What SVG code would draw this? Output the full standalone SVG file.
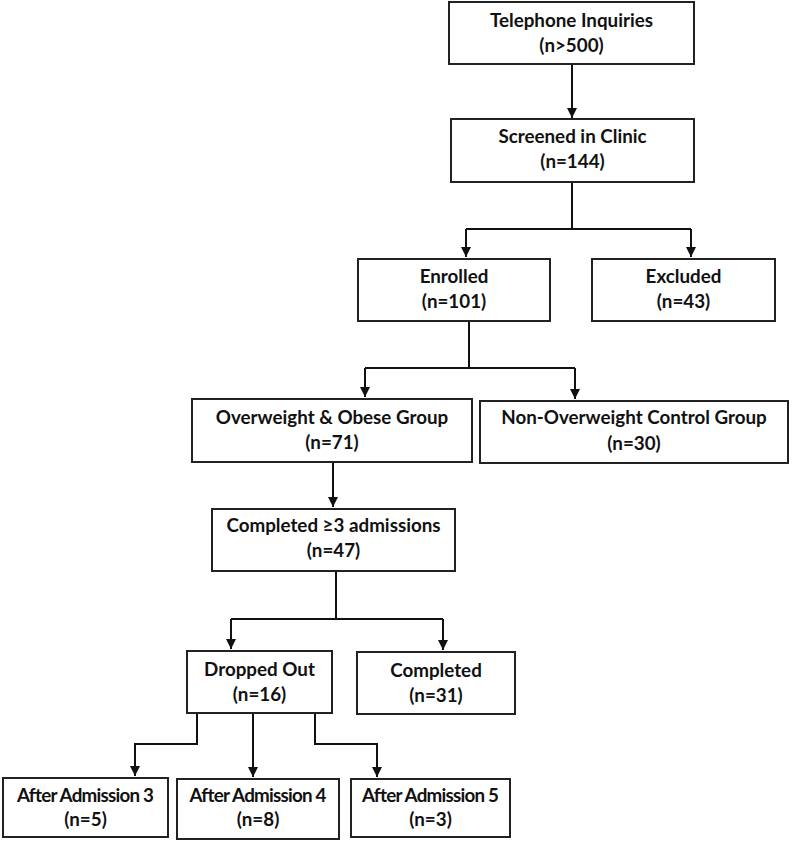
<svg xmlns="http://www.w3.org/2000/svg" width="792" height="842" viewBox="0 0 792 842">
<defs>
<marker id="arr" viewBox="0 0 10 10" refX="10" refY="5" markerWidth="10" markerHeight="10" markerUnits="userSpaceOnUse" orient="auto">
<path d="M0,0 L10,5 L0,10 z" fill="#111"/>
</marker>
<style>
.box{fill:#fff;stroke:#222;stroke-width:2}
.t{font-family:Lato,"Liberation Sans",sans-serif;font-weight:bold;font-size:18.8px;fill:#111;text-anchor:middle}
.c{fill:none;stroke:#111;stroke-width:2}
</style>
</defs>
<rect width="792" height="842" fill="#fff"/>
<g id="connectors">
<path class="c" d="M572,64 V118" marker-end="url(#arr)"/>
<path class="c" d="M572,182 V229 M466,229 H691"/>
<path class="c" d="M466,229 V257" marker-end="url(#arr)"/>
<path class="c" d="M691,229 V257" marker-end="url(#arr)"/>
<path class="c" d="M469,321 V368 M365,368 H575"/>
<path class="c" d="M365,368 V397" marker-end="url(#arr)"/>
<path class="c" d="M575,368 V399" marker-end="url(#arr)"/>
<path class="c" d="M333,462 V507" marker-end="url(#arr)"/>
<path class="c" d="M336,571 V619 M231,619 H443"/>
<path class="c" d="M231,619 V649" marker-end="url(#arr)"/>
<path class="c" d="M443,619 V650" marker-end="url(#arr)"/>
<path class="c" d="M197,713 V744 H135 V776" marker-end="url(#arr)"/>
<path class="c" d="M253,713 V777" marker-end="url(#arr)"/>
<path class="c" d="M315,713 V744 H377 V777" marker-end="url(#arr)"/>
</g>
<g id="telephone"><rect class="box" x="449" y="2" width="245" height="62"/><text class="t" x="571.5" y="27">Telephone Inquiries</text><text class="t" x="571.5" y="52">(n&gt;500)</text></g>
<g id="screened"><rect class="box" x="451" y="119" width="243" height="63"/><text class="t" x="572.5" y="143">Screened in Clinic</text><text class="t" x="572.5" y="168">(n=144)</text></g>
<g id="enrolled"><rect class="box" x="358" y="259" width="192" height="62"/><text class="t" x="454" y="283">Enrolled</text><text class="t" x="454" y="308">(n=101)</text></g>
<g id="excluded"><rect class="box" x="592" y="259" width="183" height="62"/><text class="t" x="683.5" y="283">Excluded</text><text class="t" x="683.5" y="308">(n=43)</text></g>
<g id="overweight"><rect class="box" x="192" y="399" width="280" height="63"/><text class="t" x="332" y="424">Overweight &amp; Obese Group</text><text class="t" x="332" y="449">(n=71)</text></g>
<g id="nonoverweight"><rect class="box" x="480" y="401" width="308" height="62"/><text class="t" x="634" y="424">Non-Overweight Control Group</text><text class="t" x="634" y="450">(n=30)</text></g>
<g id="completed3"><rect class="box" x="212" y="509" width="243" height="62"/><text class="t" x="333.5" y="532">Completed ≥3 admissions</text><text class="t" x="333.5" y="557">(n=47)</text></g>
<g id="dropped"><rect class="box" x="187" y="651" width="145" height="62"/><text class="t" x="259.5" y="676">Dropped Out</text><text class="t" x="259.5" y="701">(n=16)</text></g>
<g id="completed"><rect class="box" x="357" y="652" width="158" height="62"/><text class="t" x="436" y="677">Completed</text><text class="t" x="436" y="702">(n=31)</text></g>
<g id="after3"><rect class="box" x="3" y="778" width="165" height="59"/><text class="t" x="85.5" y="802" textLength="137" lengthAdjust="spacing">After Admission 3</text><text class="t" x="85.5" y="826">(n=5)</text></g>
<g id="after4"><rect class="box" x="177" y="779" width="162" height="60"/><text class="t" x="258" y="802" textLength="137" lengthAdjust="spacing">After Admission 4</text><text class="t" x="258" y="826">(n=8)</text></g>
<g id="after5"><rect class="box" x="351" y="779" width="159" height="58"/><text class="t" x="430.5" y="802" textLength="137" lengthAdjust="spacing">After Admission 5</text><text class="t" x="430.5" y="826">(n=3)</text></g>
</svg>
